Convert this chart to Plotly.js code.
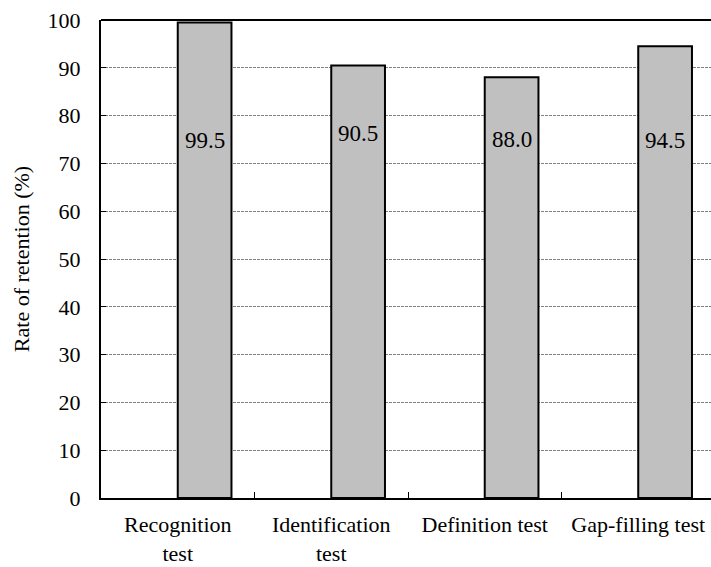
<!DOCTYPE html>
<html>
<head>
<meta charset="utf-8">
<script src="https://cdn.plot.ly/plotly-3.0.1.min.js"></script>
<style>html,body{margin:0;padding:0;background:#fff;}#chart{width:711px;height:567px;}</style>
</head>
<body>
<div id="chart"></div>
<script>
const categories = ["Recognition<br>test", "Identification<br>test", "Definition test", "Gap-filling test"];
const retention = [99.5, 90.5, 88.0, 94.5];
const valueLabels = ["99.5", "90.5", "88.0", "94.5"];
const yTicks = [0, 10, 20, 30, 40, 50, 60, 70, 80, 90, 100];

const labelY = [74.7, 76.2, 75.0, 74.7];
const BAR_W = 0.35;
const FONT = "Liberation Serif";

const trace = {
  type: "bar",
  x: categories,
  y: retention,
  width: BAR_W,
  offset: 0,
  marker: {color: "#c0c0c0", line: {color: "#000", width: 2}},
  hoverinfo: "skip"
};

const annotations = categories.map((c, i) => ({
  x: i + BAR_W / 2, y: labelY[i], xref: "x", yref: "y",
  text: valueLabels[i], showarrow: false,
  font: {family: FONT, size: 23, color: "#000"},
  xanchor: "center", yanchor: "middle"
}));

const layout = {
  width: 711, height: 567,
  margin: {l: 101, r: 0, t: 20, b: 69, pad: 0},
  paper_bgcolor: "#fff", plot_bgcolor: "#fff",
  showlegend: false,
  font: {family: FONT, size: 22, color: "#000"},
  xaxis: {
    type: "category",
    range: [-0.5, 3.474],
    showline: true, linecolor: "#000", linewidth: 2,
    ticks: "inside", tickson: "boundaries", ticklen: 6, tickwidth: 1, tickcolor: "#000",
    showgrid: false, zeroline: false,
    tickfont: {family: FONT, size: 22, color: "#000"},
    ticklabelstandoff: 6,
    automargin: false
  },
  yaxis: {
    range: [0, 100],
    tickvals: yTicks,
    ticktext: yTicks.map(String),
    showline: true, linecolor: "#000", linewidth: 2,
    ticks: "inside", ticklen: 5, tickwidth: 1, tickcolor: "#000",
    showgrid: true, gridcolor: "#808080", gridwidth: 1, griddash: "3px,1px",
    zeroline: false,
    tickfont: {family: FONT, size: 22, color: "#000"},
    ticklabelstandoff: 14,
    title: {text: "Rate of retention (%)", font: {family: FONT, size: 22, color: "#000"}, standoff: 12},
    automargin: false
  },
  shapes: [{type: "line", xref: "paper", yref: "paper", x0: 0, x1: 1, y0: 1, y1: 1, line: {color: "#000", width: 2}}],
  annotations: annotations
};

Plotly.newPlot("chart", [trace], layout, {displayModeBar: false, staticPlot: true});
</script>
</body>
</html>
